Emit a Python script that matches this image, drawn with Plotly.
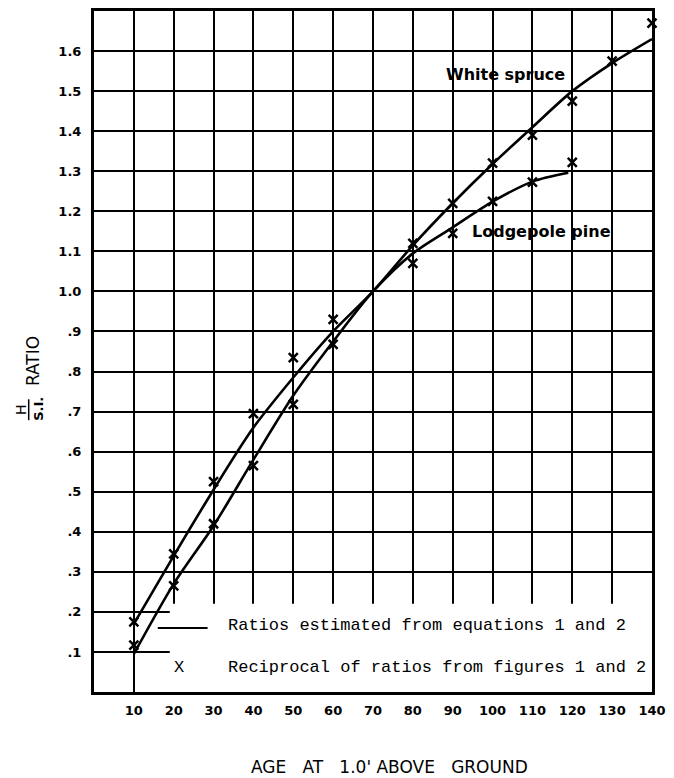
import plotly.graph_objects as go

# ---- data ----
ws_age = [10, 20, 30, 40, 50, 60, 70, 80, 90, 100, 110, 120, 130, 140]
ws_ratio = [0.17, 0.34, 0.505, 0.66, 0.785, 0.90, 1.0, 1.115, 1.22, 1.318, 1.41, 1.50, 1.57, 1.63]

lp_age = [10, 20, 30, 40, 50, 60, 70, 80, 90, 100, 110, 119]
lp_ratio = [0.095, 0.27, 0.415, 0.58, 0.74, 0.875, 1.0, 1.095, 1.16, 1.224, 1.274, 1.296]

ws_pt_age = [10, 20, 30, 40, 50, 60, 80, 90, 100, 110, 120, 130, 140]
ws_pt_ratio = [0.175, 0.345, 0.525, 0.695, 0.835, 0.93, 1.12, 1.22, 1.32, 1.39, 1.475, 1.575, 1.67]

lp_pt_age = [10, 20, 30, 40, 50, 60, 80, 90, 100, 110, 120]
lp_pt_ratio = [0.117, 0.265, 0.42, 0.565, 0.718, 0.868, 1.07, 1.145, 1.225, 1.273, 1.322]

x_ticks = [10, 20, 30, 40, 50, 60, 70, 80, 90, 100, 110, 120, 130, 140]
y_ticks = [0.1, 0.2, 0.3, 0.4, 0.5, 0.6, 0.7, 0.8, 0.9, 1.0, 1.1, 1.2, 1.3, 1.4, 1.5, 1.6]
y_ticktext = [".1", ".2", ".3", ".4", ".5", ".6", ".7", ".8", ".9",
              "1.0", "1.1", "1.2", "1.3", "1.4", "1.5", "1.6"]

fig = go.Figure()

line_style = dict(color="black", width=2.6, shape="spline", smoothing=0.8)
fig.add_trace(go.Scatter(x=ws_age, y=ws_ratio, mode="lines", line=line_style,
                         showlegend=False, hoverinfo="skip"))
fig.add_trace(go.Scatter(x=lp_age, y=lp_ratio, mode="lines", line=line_style,
                         showlegend=False, hoverinfo="skip"))

mk = dict(symbol="x-thin", size=9, color="black", line=dict(color="black", width=2.5))
fig.add_trace(go.Scatter(x=ws_pt_age, y=ws_pt_ratio, mode="markers", marker=mk,
                         showlegend=False, cliponaxis=False))
fig.add_trace(go.Scatter(x=lp_pt_age, y=lp_pt_ratio, mode="markers", marker=mk,
                         showlegend=False, cliponaxis=False))

tick_font = dict(family="DejaVu Sans", size=13, color="black", weight="bold")

fig.update_xaxes(range=[0, 140], tickvals=x_ticks, ticktext=[str(v) for v in x_ticks],
                 showgrid=True, gridcolor="black", gridwidth=2.2,
                 showline=True, linecolor="black", linewidth=3, mirror=True,
                 ticks="", tickfont=tick_font, ticklabelstandoff=4, zeroline=False)
fig.update_yaxes(range=[0, 1.7], tickvals=y_ticks, ticktext=y_ticktext,
                 showgrid=True, gridcolor="black", gridwidth=2.2,
                 showline=True, linecolor="black", linewidth=3, mirror=True,
                 ticks="", tickfont=tick_font, ticklabelstandoff=7, zeroline=False)

# white area behind the key (masks grid)
fig.add_shape(type="rect", xref="x", yref="y", x0=19, x1=140, y0=0, y1=0.22,
              fillcolor="white", line=dict(width=0), layer="between")
# key line sample
fig.add_shape(type="line", xref="x", yref="y", x0=16, x1=28.5, y0=0.16, y1=0.16,
              line=dict(color="black", width=2), layer="above")

mono = dict(family="Liberation Mono", size=17, color="black")
fig.add_annotation(x=33, y=0.167, xref="x", yref="y", text="Ratios estimated from equations 1 and 2",
                   showarrow=False, xanchor="left", yanchor="middle", font=mono)
fig.add_annotation(x=33, y=0.062, xref="x", yref="y", text="Reciprocal of ratios from figures 1 and 2",
                   showarrow=False, xanchor="left", yanchor="middle", font=mono)
fig.add_annotation(x=21.2, y=0.062, xref="x", yref="y", text="X",
                   showarrow=False, xanchor="center", yanchor="middle", font=mono)

lab_font = dict(family="DejaVu Sans", size=16, color="black", weight="bold")
fig.add_annotation(x=87.7, y=1.542, xref="x", yref="y", text="White spruce",
                   showarrow=False, xanchor="left", yanchor="middle", font=lab_font)
fig.add_annotation(x=94.4, y=1.149, xref="x", yref="y", text="Lodgepole pine",
                   showarrow=False, xanchor="left", yanchor="middle", font=lab_font)

# axis titles
fig.add_annotation(x=(393 - 94) / 564, y=(692 - 767) / 684, xref="paper", yref="paper",
                   text="AGE&nbsp;&nbsp;&nbsp;AT&nbsp;&nbsp;&nbsp;1.0'&nbsp;ABOVE&nbsp;&nbsp;&nbsp;GROUND",
                   showarrow=False, xanchor="center", yanchor="middle",
                   font=dict(family="DejaVu Sans", size=17, color="black"))
fig.add_annotation(x=(33 - 94) / 564, y=(692 - 360) / 684, xref="paper", yref="paper",
                   text="RATIO", textangle=-90, showarrow=False,
                   xanchor="center", yanchor="middle",
                   font=dict(family="DejaVu Sans", size=17, color="black"))
fig.add_annotation(x=(20 - 94) / 564, y=(692 - 408) / 684, xref="paper", yref="paper",
                   text="H", textangle=-90, showarrow=False,
                   xanchor="center", yanchor="middle",
                   font=dict(family="DejaVu Sans", size=14, color="black"))
fig.add_annotation(x=(38 - 94) / 564, y=(692 - 408) / 684, xref="paper", yref="paper",
                   text="S.I.", textangle=-90, showarrow=False,
                   xanchor="center", yanchor="middle",
                   font=dict(family="DejaVu Sans", size=13, color="black", weight="bold"))
fig.add_shape(type="line", xref="paper", yref="paper",
              x0=(28 - 94) / 564, x1=(28 - 94) / 564,
              y0=(692 - 398) / 684, y1=(692 - 419) / 684,
              line=dict(color="black", width=1.5))

fig.update_layout(width=674, height=778,
                  margin=dict(l=94, r=16, t=8, b=86),
                  plot_bgcolor="white", paper_bgcolor="white",
                  showlegend=False)

fig.write_html("out.html")
